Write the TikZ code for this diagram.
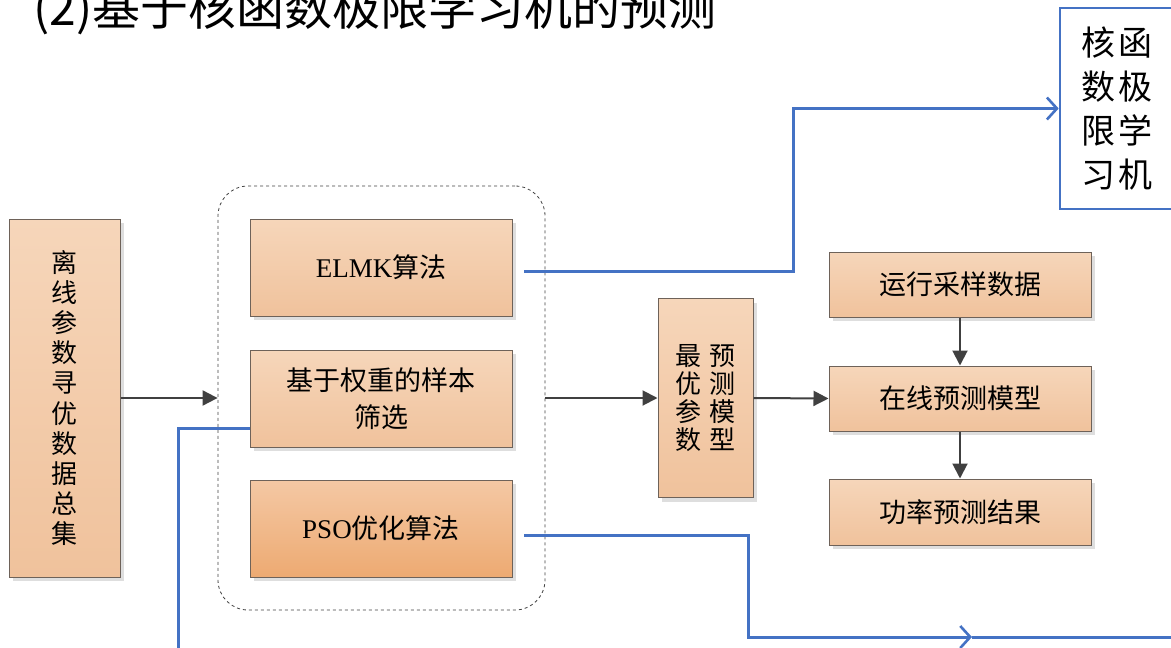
\documentclass[tikz,border=0pt]{standalone}
\usepackage{fontspec}
\setmainfont{Liberation Serif}
\newfontfamily\cjk{Noto Sans CJK SC}
\usetikzlibrary{arrows.meta,shadows}
\definecolor{pktop}{HTML}{F6D6BA}
\definecolor{pkbot}{HTML}{F0C29C}
\definecolor{ortop}{HTML}{F4C8A4}
\definecolor{orbot}{HTML}{EDAA72}
\definecolor{bdr}{HTML}{6E6259}
\definecolor{bl}{HTML}{4472C4}
\definecolor{dk}{HTML}{404040}
\tikzset{
  box/.style={draw=bdr, line width=1pt, top color=pktop, bottom color=pkbot,
    drop shadow={shadow xshift=4pt, shadow yshift=-4pt, fill=black!13, opacity=1},
    inner sep=0pt, align=center, text=black,
    font=\cjk\fontsize{27}{37}\selectfont},
  obox/.style={box, top color=ortop, bottom color=orbot},
  grp/.style={draw=black!75, dashed, line width=0.8pt, rounded corners=30pt,
    minimum width=327pt, minimum height=424pt, inner sep=0pt},
  darrow/.style={draw=dk, line width=2pt, -{Triangle[length=15pt,width=15pt]}},
  bline/.style={draw=bl, line width=3pt},
  barrow/.style={bline, -{Straight Barb[length=10pt,width=22pt,line width=2.6pt]}},
  kbox/.style={draw=bl, line width=2.6pt, fill=white, inner sep=0pt, align=center,
    minimum width=113pt, minimum height=201pt, font=\cjk\fontsize{34}{44}\selectfont},
}
\begin{document}
\begin{tikzpicture}[x=1pt,y=-1pt]
\useasboundingbox (0,0) rectangle (1171,648);
% title
\node[anchor=base west, inner sep=0pt, font=\cjk\fontsize{48}{48}\selectfont] (title) at (33,25) {(2)基于核函数极限学习机的预测};
% group
\node[grp] (grp) at (381.5,398) {};
% boxes
\node[box, minimum width=111pt, minimum height=358pt, font=\cjk\fontsize{26}{30.2}\selectfont] (src) at (64.5,398)
  {离\\线\\参\\数\\寻\\优\\数\\据\\总\\集};
\node[box, minimum width=262pt, minimum height=97pt] (elmk) at (381,267.5) {{\rmfamily ELMK}算法};
\node[box, minimum width=262pt, minimum height=97pt] (wsel) at (381,398.5) {基于权重的样本\\筛选};
\node[obox, minimum width=262pt, minimum height=97pt] (pso) at (381,528.5) {{\rmfamily PSO}优化算法};
\node[box, minimum width=95pt, minimum height=199pt, font=\cjk\fontsize{26}{28}\selectfont] (opt) at (705.5,398)
  {最\hspace{8pt}预\\优\hspace{8pt}测\\参\hspace{8pt}模\\数\hspace{8pt}型};
\node[box, minimum width=262pt, minimum height=65pt] (run) at (960,284.5) {运行采样数据};
\node[box, minimum width=262pt, minimum height=65pt] (online) at (960,398.5) {在线预测模型};
\node[box, minimum width=262pt, minimum height=66pt] (res) at (960,512) {功率预测结果};
\node[kbox] (kern) at (1116.5,108.5) {核\hspace{3pt}函\\数\hspace{3pt}极\\限\hspace{3pt}学\\习\hspace{3pt}机};
% dark arrows
\draw[darrow] (src.east) -- (grp.west);
\draw[darrow] (grp.east) -- (opt.west);
\draw[darrow] (opt.east) -- (online.west);
\draw[darrow] (run.south) -- (online.north);
\draw[darrow] (online.south) -- (res.north);
% blue connectors
\coordinate (e1) at (524,271);
\coordinate (p1) at (524,535);
\coordinate (pm) at (972,637);
\coordinate (pend) at (1175,637);
\coordinate (w1) at (250,428);
\coordinate (w2) at (178,652);
\draw[barrow] (e1) -- ++(269,0) |- (kern.west);
\draw[barrow] (p1) -- ++(224,0) |- (pm);
\draw[bline] (pm) -- (pend);
\draw[bline] (w1) -| (w2);
\end{tikzpicture}
\end{document}
